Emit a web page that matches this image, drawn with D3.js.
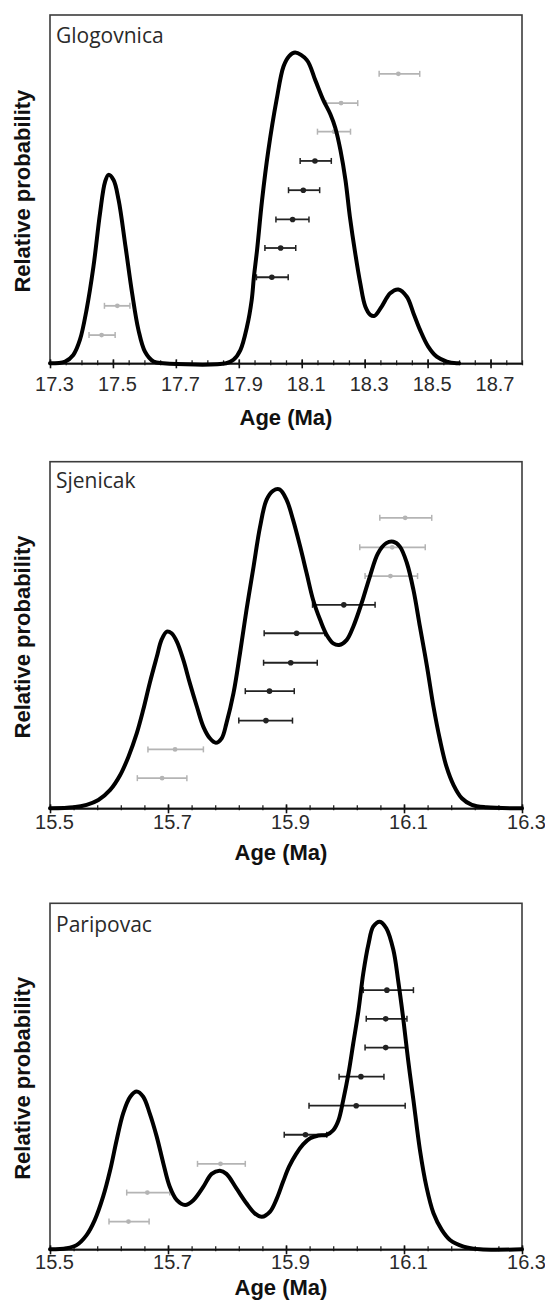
<!DOCTYPE html>
<html>
<head>
<meta charset="utf-8">
<title>Relative probability plots</title>
<script src="https://cdn.jsdelivr.net/npm/d3@7"></script>
<style>
  body { margin: 0; background: #fff; }
  .tick text { font-family: "Liberation Sans Narrow", "Arial Narrow", "Liberation Sans", Arial, sans-serif; }
</style>
</head>
<body>
<div id="chart"></div>
<script>
// ---- Glogovnica ----
var glogTicks = [17.3, 17.5, 17.7, 17.9, 18.1, 18.3, 18.5, 18.7];
var glogAge = [17.30, 17.348, 17.374, 17.395, 17.416, 17.438, 17.459, 17.475, 17.486, 17.502, 17.518, 17.540, 17.561, 17.581, 17.602, 17.629, 17.66, 17.86, 17.883, 17.905, 17.926, 17.941, 17.948, 17.958, 17.974, 17.994, 18.020, 18.042, 18.060, 18.079, 18.116, 18.143, 18.169, 18.191, 18.207, 18.223, 18.239, 18.253, 18.270, 18.286, 18.302, 18.318, 18.331, 18.354, 18.381, 18.407, 18.434, 18.455, 18.476, 18.502, 18.529, 18.561, 18.592, 18.60];
var glogProb = [0, 0.005, 0.024, 0.067, 0.153, 0.277, 0.431, 0.521, 0.541, 0.526, 0.469, 0.335, 0.201, 0.096, 0.033, 0.005, 0, 0, 0.010, 0.038, 0.105, 0.182, 0.248, 0.325, 0.469, 0.612, 0.756, 0.852, 0.882, 0.892, 0.871, 0.813, 0.755, 0.715, 0.675, 0.612, 0.526, 0.421, 0.316, 0.230, 0.163, 0.139, 0.136, 0.163, 0.201, 0.212, 0.191, 0.144, 0.096, 0.048, 0.019, 0.005, 0, 0];
var glogBarAge = [18.407, 18.225, 18.203, 18.142, 18.105, 18.071, 18.033, 18.005, 17.514, 17.464];
var glogBarLo  = [18.346, 18.177, 18.150, 18.095, 18.058, 18.018, 17.983, 17.956, 17.473, 17.424];
var glogBarHi  = [18.475, 18.278, 18.255, 18.194, 18.157, 18.123, 18.081, 18.057, 17.554, 17.507];
var glogBarRow = [0.831, 0.747, 0.665, 0.581, 0.497, 0.413, 0.331, 0.247, 0.165, 0.081];
var glogBarUsed = [0, 0, 0, 1, 1, 1, 1, 1, 0, 0];

// ---- Sjenicak ----
var sjenTicks = [15.5, 15.7, 15.9, 16.1, 16.3];
var sjenAge = [15.500, 15.540, 15.562, 15.582, 15.602, 15.619, 15.633, 15.647, 15.658, 15.669, 15.681, 15.689, 15.698, 15.706, 15.715, 15.726, 15.737, 15.749, 15.760, 15.771, 15.781, 15.791, 15.799, 15.811, 15.822, 15.833, 15.845, 15.856, 15.867, 15.878, 15.889, 15.901, 15.912, 15.924, 15.935, 15.946, 15.958, 15.969, 15.980, 15.990, 16.003, 16.014, 16.028, 16.042, 16.056, 16.070, 16.082, 16.093, 16.105, 16.116, 16.127, 16.139, 16.150, 16.161, 16.172, 16.184, 16.198, 16.215, 16.240, 16.300];
var sjenProb = [0, 0.003, 0.010, 0.024, 0.053, 0.096, 0.149, 0.216, 0.284, 0.361, 0.437, 0.486, 0.510, 0.505, 0.481, 0.428, 0.361, 0.293, 0.235, 0.202, 0.189, 0.202, 0.245, 0.332, 0.447, 0.572, 0.697, 0.812, 0.890, 0.916, 0.920, 0.890, 0.832, 0.755, 0.678, 0.601, 0.543, 0.500, 0.476, 0.471, 0.486, 0.524, 0.591, 0.668, 0.736, 0.765, 0.769, 0.755, 0.707, 0.630, 0.524, 0.409, 0.293, 0.197, 0.120, 0.067, 0.029, 0.010, 0.003, 0];
var sjenBarAge = [16.102, 16.080, 16.077, 15.998, 15.918, 15.908, 15.872, 15.866, 15.712, 15.690];
var sjenBarLo  = [16.059, 16.025, 16.034, 15.945, 15.863, 15.862, 15.831, 15.820, 15.666, 15.648];
var sjenBarHi  = [16.147, 16.136, 16.123, 16.051, 15.966, 15.953, 15.914, 15.911, 15.760, 15.732];
var sjenBarRow = [0.838, 0.753, 0.670, 0.587, 0.505, 0.420, 0.338, 0.253, 0.170, 0.087];
var sjenBarUsed = [0, 0, 0, 1, 1, 1, 1, 1, 0, 0];

// ---- Paripovac ----
var pariTicks = [15.5, 15.7, 15.9, 16.1, 16.3];
var pariAge = [15.500, 15.528, 15.545, 15.562, 15.576, 15.590, 15.602, 15.613, 15.624, 15.636, 15.647, 15.658, 15.669, 15.681, 15.692, 15.703, 15.715, 15.729, 15.743, 15.760, 15.774, 15.788, 15.799, 15.816, 15.833, 15.847, 15.859, 15.873, 15.884, 15.895, 15.905, 15.917, 15.929, 15.941, 15.955, 15.969, 15.980, 15.989, 15.997, 16.006, 16.014, 16.023, 16.031, 16.040, 16.048, 16.059, 16.070, 16.082, 16.090, 16.099, 16.107, 16.116, 16.127, 16.138, 16.150, 16.164, 16.178, 16.201, 16.229, 16.300];
var pariProb = [0, 0.003, 0.012, 0.041, 0.085, 0.152, 0.229, 0.316, 0.393, 0.441, 0.456, 0.441, 0.393, 0.325, 0.249, 0.181, 0.142, 0.128, 0.142, 0.181, 0.218, 0.227, 0.218, 0.176, 0.133, 0.104, 0.094, 0.109, 0.145, 0.195, 0.238, 0.275, 0.303, 0.321, 0.329, 0.331, 0.344, 0.373, 0.431, 0.509, 0.595, 0.692, 0.798, 0.884, 0.933, 0.947, 0.928, 0.865, 0.778, 0.663, 0.547, 0.431, 0.287, 0.181, 0.104, 0.056, 0.027, 0.008, 0, 0];
var pariBarAge = [16.071, 16.069, 16.069, 16.027, 16.019, 15.933, 15.789, 15.665, 15.633];
var pariBarLo  = [16.031, 16.036, 16.034, 15.990, 15.939, 15.897, 15.750, 15.630, 15.600];
var pariBarHi  = [16.116, 16.105, 16.103, 16.066, 16.102, 15.969, 15.831, 15.703, 15.668];
var pariBarRow = [0.749, 0.666, 0.583, 0.499, 0.415, 0.331, 0.247, 0.164, 0.080];
var pariBarUsed = [1, 1, 1, 1, 1, 1, 0, 0, 0];

var width = 545, height = 1309;
var left = 50, right = 522;

var panels = [
  {name: "Glogovnica", ticks: glogTicks, end: 18.8, minor: 0.05, age: glogAge, prob: glogProb,
   bAge: glogBarAge, bLo: glogBarLo, bHi: glogBarHi, bRow: glogBarRow, bUsed: glogBarUsed,
   top: 15, axis: 363.3, titleY: 43, labelY: 391, xTitleY: 425, xTitleX: 286},
  {name: "Sjenicak", ticks: sjenTicks, end: 16.3, minor: 0.04, age: sjenAge, prob: sjenProb,
   bAge: sjenBarAge, bLo: sjenBarLo, bHi: sjenBarHi, bRow: sjenBarRow, bUsed: sjenBarUsed,
   top: 461.7, axis: 808.3, titleY: 488, labelY: 829, xTitleY: 860, xTitleX: 281},
  {name: "Paripovac", ticks: pariTicks, end: 16.3, minor: 0.04, age: pariAge, prob: pariProb,
   bAge: pariBarAge, bLo: pariBarLo, bHi: pariBarHi, bRow: pariBarRow, bUsed: pariBarUsed,
   top: 903.3, axis: 1249.3, titleY: 932, labelY: 1269, xTitleY: 1295, xTitleX: 281}
];

var svg = d3.select("#chart").append("svg")
  .attr("width", width).attr("height", height)
  .style("background", "#fff");

panels.forEach(function(p) {
  var lo = p.ticks[0];
  var x = d3.scaleLinear().domain([lo, p.end]).range([left, right]);
  var y = d3.scaleLinear().domain([0, 1]).range([p.axis, p.top]);
  var g = svg.append("g");

  // frame
  g.append("rect")
    .attr("x", left).attr("y", p.top)
    .attr("width", right - left).attr("height", p.axis - p.top)
    .attr("fill", "none").attr("stroke", "#3c3c3c").attr("stroke-width", 1.6);

  // minor ticks
  var minorVals = d3.range(lo, p.end + 1e-6, p.minor);
  g.append("g")
    .attr("transform", "translate(0," + p.axis + ")")
    .call(d3.axisBottom(x).tickValues(minorVals).tickFormat("").tickSizeOuter(0))
    .call(function(a) {
      a.select(".domain").remove();
      a.selectAll(".tick line").attr("y1", -3).attr("y2", 2)
        .attr("stroke", "#222").attr("stroke-width", 1.3);
    });

  // major ticks + labels
  var ax = g.append("g")
    .attr("transform", "translate(0," + p.axis + ")")
    .call(d3.axisBottom(x).tickValues(p.ticks).tickFormat(d3.format(".1f")).tickSizeOuter(0));
  ax.select(".domain").attr("stroke", "#111").attr("stroke-width", 1.8);
  ax.selectAll(".tick line").attr("y1", -4).attr("y2", 5)
    .attr("stroke", "#111").attr("stroke-width", 1.6);
  ax.selectAll(".tick text")
    .attr("y", p.labelY - p.axis).attr("dy", 0).attr("dx", 4)
    .attr("fill", "#2a2a2a")
    .style("font-size", "20px");

  // error bars (drawn under the curve)
  var bars = d3.range(p.bAge.length).map(function(i) {
    return {age: p.bAge[i], lo: p.bLo[i], hi: p.bHi[i], row: p.bRow[i], used: p.bUsed[i]};
  });
  var bg = g.selectAll(".bar").data(bars).enter().append("g").attr("class", "bar");
  function col(d) { return d.used ? "#222" : "#b4b4b4"; }
  bg.append("line")
    .attr("x1", d => x(d.lo)).attr("x2", d => x(d.hi))
    .attr("y1", d => y(d.row)).attr("y2", d => y(d.row))
    .attr("stroke", col).attr("stroke-width", 1.8);
  bg.append("line")
    .attr("x1", d => x(d.lo)).attr("x2", d => x(d.lo))
    .attr("y1", d => y(d.row) - 3).attr("y2", d => y(d.row) + 3)
    .attr("stroke", col).attr("stroke-width", 1.5);
  bg.append("line")
    .attr("x1", d => x(d.hi)).attr("x2", d => x(d.hi))
    .attr("y1", d => y(d.row) - 3).attr("y2", d => y(d.row) + 3)
    .attr("stroke", col).attr("stroke-width", 1.5);
  bg.append("circle")
    .attr("cx", d => x(d.age)).attr("cy", d => y(d.row))
    .attr("r", d => d.used ? 2.8 : 2.4)
    .attr("fill", col);

  // probability curve
  var pts = p.age.map(function(a, i) { return [a, p.prob[i]]; });
  var line = d3.line()
    .x(d => x(d[0])).y(d => Math.min(y(d[1]), p.axis))
    .curve(d3.curveCatmullRom.alpha(0.5));
  g.append("path").datum(pts)
    .attr("d", line)
    .attr("fill", "none").attr("stroke", "#000")
    .attr("stroke-width", 4).attr("stroke-linejoin", "round").attr("stroke-linecap", "round");

  // site name
  g.append("text")
    .attr("x", left + 6).attr("y", p.titleY)
    .attr("fill", "#2a2a2a")
    .style("font-family", "'Open Sans', 'Noto Sans', sans-serif")
    .style("font-size", "21px")
    .text(p.name);

  // axis titles
  g.append("text")
    .attr("x", p.xTitleX).attr("y", p.xTitleY)
    .attr("text-anchor", "middle")
    .attr("fill", "#111")
    .style("font-family", "'Liberation Sans', Arial, sans-serif")
    .style("font-weight", "bold").style("font-size", "22px")
    .text("Age (Ma)");

  g.append("text")
    .attr("transform", "translate(30," + ((p.top + p.axis) / 2 + 2) + ") rotate(-90)")
    .attr("text-anchor", "middle")
    .attr("fill", "#111")
    .style("font-family", "'Liberation Sans', Arial, sans-serif")
    .style("font-weight", "bold").style("font-size", "22px")
    .text("Relative probability");
});
</script>
</body>
</html>
